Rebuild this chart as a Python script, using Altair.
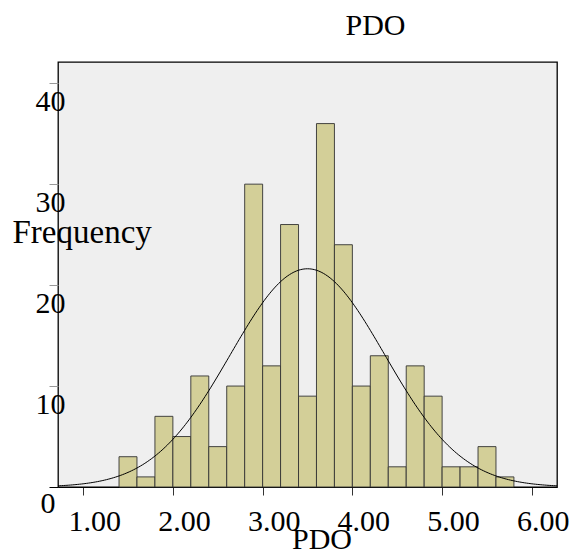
import altair as alt
import pandas as pd

# ---- data ----
bin_starts = [1.4, 1.6, 1.8, 2.0, 2.2, 2.4, 2.6, 2.8, 3.0, 3.2, 3.4,
              3.6, 3.8, 4.0, 4.2, 4.4, 4.6, 4.8, 5.0, 5.2, 5.4, 5.6]
counts = [3, 1, 7, 5, 11, 4, 10, 30, 12, 26, 9,
          36, 24, 10, 13, 2, 12, 9, 2, 2, 4, 1]
bin_width = 0.2
x_ticks = [1, 2, 3, 4, 5, 6]
y_ticks = [0, 10, 20, 30, 40]
curve_mean = 3.50
curve_sd = 0.86
n_total = sum(counts)

FONT = "Liberation Serif"
W, H = 499, 425
X_DOMAIN = [0.72, 6.28]
Y_DOMAIN = [0, 42.1]

bars_df = pd.DataFrame({"start": bin_starts, "count": counts})

xscale = alt.Scale(domain=X_DOMAIN, nice=False, zero=False)
yscale = alt.Scale(domain=Y_DOMAIN, nice=False)

x_axis = alt.Axis(
    values=x_ticks, format=".2f", grid=False, domain=True, domainColor="black",
    tickColor="#333333", tickSize=8, labelFont=FONT, labelFontSize=30,
    labelColor="black", labelBaseline="alphabetic", labelPadding=35,
    labelOffset=11, labelFlush=False, labelOverlap=False,
    title="PDO", titleFont=FONT, titleFontSize=30, titleFontWeight="normal",
    titleColor="black", titleX=263.5, titleY=61, titleAlign="center",
    titleBaseline="alphabetic",
)

y_axis = alt.Axis(
    values=y_ticks, grid=False, domain=False,
    tickColor={"condition": {"test": "datum.value === 0", "value": "black"}, "value": "#999999"},
    tickSize=9, labelFont=FONT, labelFontSize=30, labelColor="black",
    labelAlign="right", labelBaseline="alphabetic",
    labelPadding={"condition": {"test": "datum.value === 0", "value": -6}, "value": -16},
    labelOffset={"condition": {"test": "datum.value === 0", "value": 25}, "value": 27},
    labelFlush=False, labelOverlap=False,
    title="Frequency", titleFont=FONT, titleFontSize=33, titleFontWeight="normal",
    titleColor="black", titleAngle=0, titleAlign="left", titleBaseline="alphabetic",
    titleX=-46, titleY=180,
)

bars = alt.Chart(bars_df).transform_calculate(
    end=f"datum.start + {bin_width}"
).mark_bar(
    fill="#d3cf98", stroke="#333333", strokeWidth=1, strokeOpacity=0.9
).encode(
    x=alt.X("start:Q", scale=xscale, axis=x_axis),
    x2="end:Q",
    y=alt.Y("count:Q", scale=yscale, axis=y_axis),
    y2=alt.datum(0),
)

peak = n_total * bin_width / (curve_sd * (2 * 3.141592653589793) ** 0.5)
curve = alt.Chart(alt.sequence(0.72, 6.29, 0.02, as_="x")).transform_calculate(
    y=f"{peak} * exp(-0.5 * pow((datum.x - {curve_mean}) / {curve_sd}, 2))"
).mark_line(color="black", strokeWidth=1, clip=True).encode(
    x=alt.X("x:Q", scale=xscale),
    y=alt.Y("y:Q", scale=yscale),
)

chart = alt.layer(bars, curve).properties(
    width=W, height=H,
    title=alt.Title("PDO", font=FONT, fontSize=30, fontWeight="normal", color="black",
                    frame="group", anchor="middle", dx=68, dy=31, baseline="bottom", offset=22),
    autosize=alt.AutoSizeParams(type="none"),
    padding={"left": 50, "top": 54, "right": 12, "bottom": 64},
).configure(
    background="white"
).configure_view(
    fill="#efefef", stroke="black", strokeWidth=1.3
)

chart.save("out.html", embed_options={"renderer": "svg", "actions": False})
